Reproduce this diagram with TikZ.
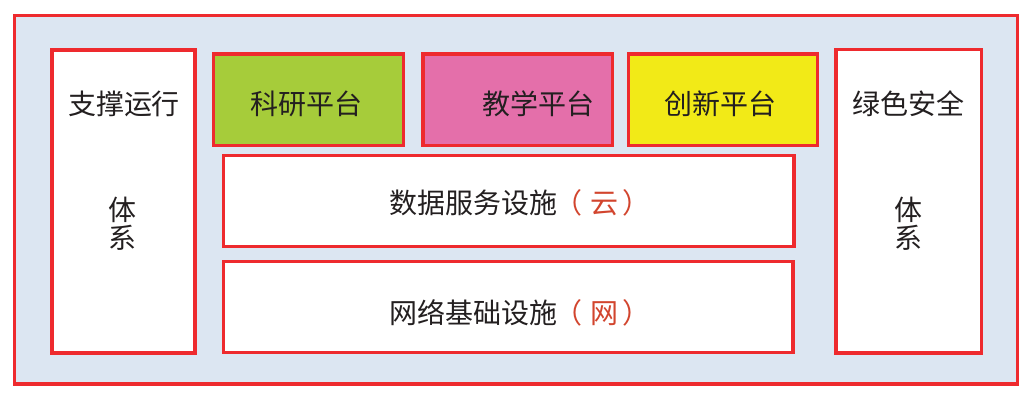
\documentclass[tikz,border=0pt]{standalone}
\usepackage{fontspec}
\setmainfont{Noto Sans CJK SC}
\definecolor{redline}{HTML}{EE2A2E}
\definecolor{bgblue}{HTML}{DCE6F2}
\definecolor{kgreen}{HTML}{A6CC3A}
\definecolor{kpink}{HTML}{E46FAA}
\definecolor{kyellow}{HTML}{F2EA17}
\definecolor{txt}{HTML}{231F20}
\definecolor{redtxt}{HTML}{D2452E}
\begin{document}
\begin{tikzpicture}[x=0.75pt,y=-0.75pt,
  frame/.style={draw=redline,line width=2.3pt},
  lbl/.style={inner sep=0pt,text=txt,font=\fontsize{21pt}{25pt}\selectfont,anchor=center}]
\useasboundingbox (0,0) rectangle (1029,401);
\fill[white] (0,0) rectangle (1029,401);
% outer
\draw[frame,fill=bgblue] (14.5,15.5) rectangle (1017.5,384);
% side panels
\draw[frame,fill=white] (52,50) rectangle (195,353);
\draw[frame,fill=white] (836,49.5) rectangle (981.5,353);
% top platforms
\draw[frame,fill=kgreen] (213.5,54) rectangle (403.5,145.5);
\draw[frame,fill=kpink] (423,54) rectangle (612.5,145.5);
\draw[frame,fill=kyellow] (628.5,54) rectangle (817.5,145.5);
% middle layers
\draw[frame,fill=white] (223.5,155.5) rectangle (794,246.5);
\draw[frame,fill=white] (223.5,261.5) rectangle (793,352.5);
% texts
\node[lbl] (l1) at (124,104) {支撑运行};
\node[lbl] (l2) at (122,210) {体};
\node[lbl] (l3) at (122,238) {系};
\node[lbl] (r1) at (908,104) {绿色安全};
\node[lbl] (r2) at (908,210) {体};
\node[lbl] (r3) at (908,238) {系};
\node[lbl] (g) at (306,104) {科研平台};
\node[lbl] (p) at (538,104) {教学平台};
\node[lbl] (y) at (720,104) {创新平台};
\node[lbl] (d) at (520,203) {数据服务设施\kern-2pt{\color{redtxt}（\kern6pt云\kern3pt）}};
\node[lbl] (n) at (520,313) {网络基础设施\kern-2pt{\color{redtxt}（\kern6pt网\kern3pt）}};
\end{tikzpicture}
\end{document}
